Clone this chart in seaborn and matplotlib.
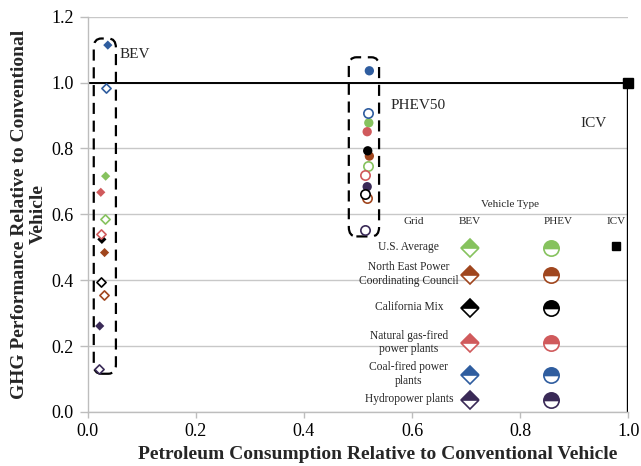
import matplotlib
matplotlib.use("Agg")
import matplotlib.pyplot as plt
from matplotlib.patches import FancyBboxPatch
import seaborn as sns
import pandas as pd

# Electricity grid mixes and their colours
grids = ["U.S. Average", "North East Power\nCoordinating Council", "California Mix",
         "Natural gas-fired\npower plants", "Coal-fired power\nplants", "Hydropower plants"]
grid_colors = ["#86C25E", "#A0461E", "#000000", "#D05A5C", "#2F5D9F", "#3A2A57"]

# BEV: petroleum use and GHG relative to the conventional vehicle
bev_petrol_solid = [0.033, 0.031, 0.026, 0.024, 0.037, 0.022]
bev_ghg_solid = [0.716, 0.484, 0.524, 0.667, 1.114, 0.261]
bev_petrol_hollow = [0.031, 0.030, 0.024, 0.024, 0.033, 0.021]
bev_ghg_hollow = [0.585, 0.354, 0.396, 0.540, 0.985, 0.131]

# PHEV50: petroleum use and GHG relative to the conventional vehicle
phev_petrol_solid = [0.520, 0.521, 0.518, 0.517, 0.521, 0.517]
phev_ghg_solid = [0.878, 0.777, 0.793, 0.851, 1.036, 0.684]
phev_petrol_hollow = [0.518, 0.517, 0.513, 0.513, 0.518, 0.513]
phev_ghg_hollow = [0.747, 0.650, 0.662, 0.720, 0.908, 0.552]

# Conventional vehicle reference
icv_petrol = 1.0
icv_ghg = 1.0

x_ticks = [0.0, 0.2, 0.4, 0.6, 0.8, 1.0]
y_ticks = [0.0, 0.2, 0.4, 0.6, 0.8, 1.0, 1.2]

sns.set_theme(style="white")
plt.rcParams["font.family"] = ["Liberation Serif", "DejaVu Serif"]

fig = plt.figure(figsize=(6.41, 4.66), dpi=100)
ax = fig.add_axes([0.137, 0.116, 0.843, 0.848])

rows = []
for vehicle, px_s, gy_s, px_h, gy_h in [
    ("BEV", bev_petrol_solid, bev_ghg_solid, bev_petrol_hollow, bev_ghg_hollow),
    ("PHEV", phev_petrol_solid, phev_ghg_solid, phev_petrol_hollow, phev_ghg_hollow),
]:
    for g, xs, ys, xh, yh in zip(grids, px_s, gy_s, px_h, gy_h):
        rows.append(dict(vehicle=vehicle, grid=g, style="solid", petrol=xs, ghg=ys))
        rows.append(dict(vehicle=vehicle, grid=g, style="hollow", petrol=xh, ghg=yh))
df = pd.DataFrame(rows)
palette = dict(zip(grids, grid_colors))

# ICV reference lines and point
ax.plot([0, icv_petrol], [icv_ghg, icv_ghg], color="black", lw=1.4, zorder=2)
ax.plot([icv_petrol, icv_petrol], [0, icv_ghg], color="black", lw=2.4, zorder=2)
ax.plot([icv_petrol], [icv_ghg], marker="s", ms=7, color="black", zorder=5, clip_on=False)

for vehicle, marker, size in [("BEV", "D", 22), ("PHEV", "o", 45)]:
    sub = df[df.vehicle == vehicle]
    solid = sub[sub["style"] == "solid"]
    hollow = sub[sub["style"] == "hollow"]
    sns.scatterplot(data=solid, x="petrol", y="ghg", hue="grid", palette=palette,
                    marker=marker, s=size, linewidth=0, legend=False, ax=ax, zorder=4)
    for _, r in hollow.iterrows():
        ax.scatter(r.petrol, r.ghg, marker=marker, s=size, facecolor="white",
                   edgecolor=palette[r.grid], linewidth=1.2, zorder=4)

# Dashed rounded boxes grouping each vehicle type
for (x0, y0, w, h) in [(0.011, 0.116, 0.041, 1.018), (0.483, 0.533, 0.056, 0.544)]:
    box = FancyBboxPatch((x0, y0), w, h, boxstyle="round,pad=0,rounding_size=0.014",
                         fill=False, ec="black", lw=1.6, ls=(0, (5, 3)), zorder=3,
                         mutation_aspect=2.0)
    ax.add_patch(box)

ax.text(0.058, 1.085, "BEV", fontsize=11, va="center", ha="left")
ax.text(0.560, 0.93, "PHEV50", fontsize=11, va="center", ha="left")
ax.text(0.935, 0.877, "ICV", fontsize=11, va="center", ha="center")

# In-plot legend table
ax.text(0.782, 0.630, "Vehicle Type", fontsize=8, ha="center", va="center")
ax.text(0.603, 0.578, "Grid", fontsize=8, ha="center", va="center")
ax.text(0.707, 0.578, "BEV", fontsize=8, ha="center", va="center")
ax.text(0.870, 0.578, "PHEV", fontsize=8, ha="center", va="center")
ax.text(0.978, 0.578, "ICV", fontsize=8, ha="center", va="center")
legend_y = [0.499, 0.416, 0.316, 0.208, 0.112, 0.036]
for g, c, ly in zip(grids, grid_colors, legend_y):
    ax.text(0.594, ly + 0.003, g, fontsize=8.3, ha="center", va="center", linespacing=1.15)
    ax.plot([0.707], [ly], marker="D", ms=9.5, fillstyle="top", color=c,
            markerfacecoloralt="white", mec=c, mew=1.2, zorder=5)
    ax.plot([0.857], [ly], marker="o", ms=11, fillstyle="top", color=c,
            markerfacecoloralt="white", mec=c, mew=1.2, zorder=5)
ax.plot([0.978], [0.504], marker="s", ms=6, color="black", zorder=5)

ax.set_xlim(0, 1.0)
ax.set_ylim(0, 1.2)
ax.set_xticks(x_ticks)
ax.set_yticks(y_ticks)
ax.set_xticklabels([f"{v:.1f}" for v in x_ticks])
ax.set_yticklabels([f"{v:.1f}" for v in y_ticks])
ax.grid(axis="y", color="#c8c8c8", lw=1)
ax.grid(axis="x", visible=False)
for side in ["top", "right"]:
    ax.spines[side].set_visible(False)
for side in ["left", "bottom"]:
    ax.spines[side].set_color("#bdbdbd")
    ax.spines[side].set_linewidth(1)
ax.tick_params(axis="both", which="major", labelsize=13, colors="#bdbdbd",
               labelcolor="black", length=4, width=1, direction="out")
ax.tick_params(axis="x", pad=4)
ax.tick_params(axis="y", length=6, pad=4)
ax.tick_params(left=True, bottom=True)

ax.set_xlabel("Petroleum Consumption Relative to Conventional Vehicle",
              fontsize=14, fontweight="bold", labelpad=3)
ax.xaxis.set_label_coords(0.537, -0.085)
ax.set_ylabel("GHG Performance Relative to Conventional\nVehicle",
              fontsize=14, fontweight="bold", labelpad=3)

fig.savefig("out.png", dpi=100)
